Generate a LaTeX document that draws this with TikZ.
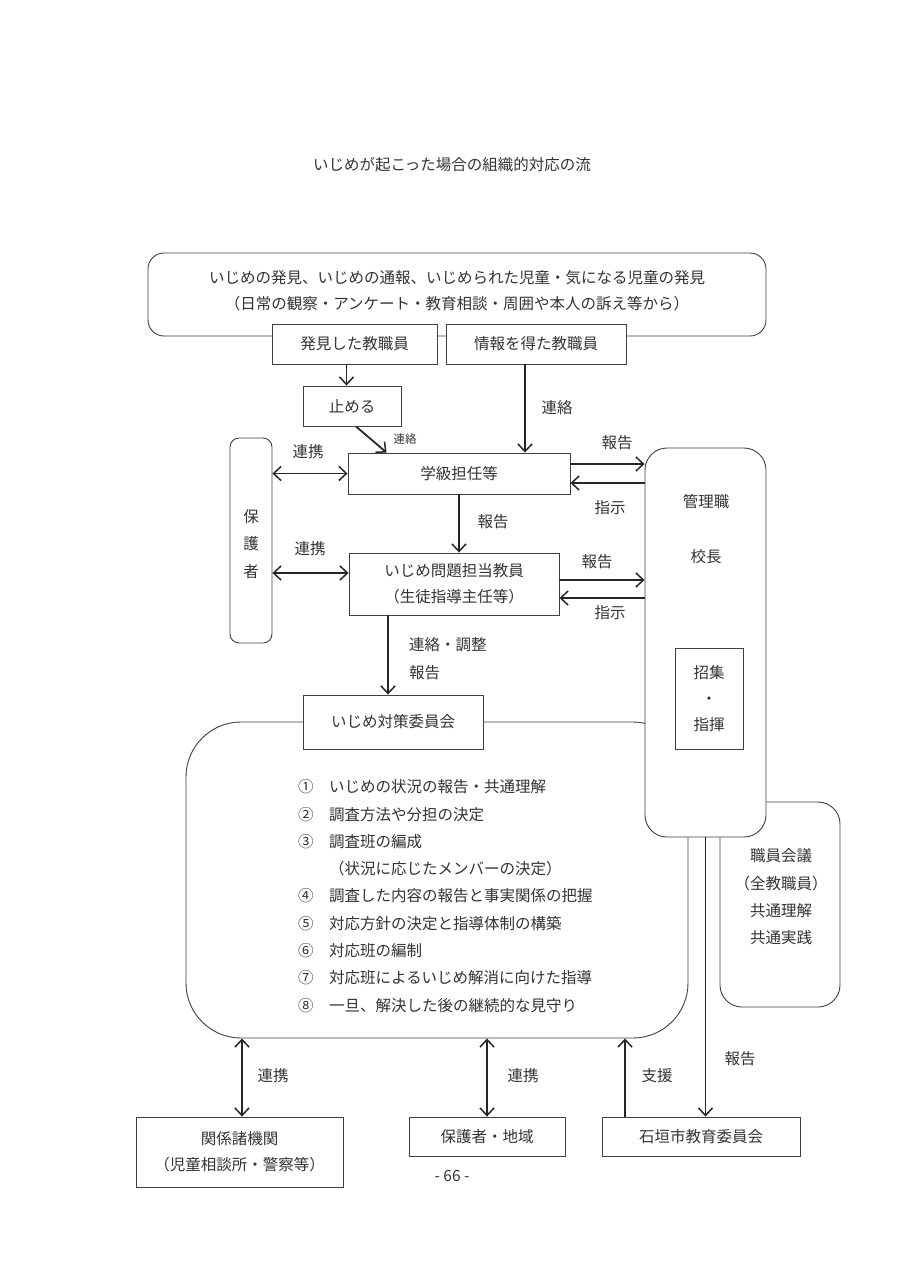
\documentclass[tikz,border=0pt]{standalone}
\usepackage{fontspec}
\setmainfont{Noto Sans CJK JP}
\usetikzlibrary{arrows.meta}

\tikzset{
  box/.style={draw=black!75, line width=0.9pt, fill=white, inner sep=0pt, align=center},
  rbox/.style={box, rounded corners=#1},
  rbox/.default=16pt,
  lbl/.style={inner sep=0pt, text=black!80},
  barb/.tip={Straight Barb[length=7.5pt,width=14pt,line width=1.5pt]},
  arr/.style={draw=black!85, line width=1.8pt, -barb},
  darr/.style={draw=black!85, line width=1.8pt, barb-barb},
}

\begin{document}
\begin{tikzpicture}[x=1pt, y=-1pt, font=\fontsize{15.5}{26}\selectfont, text=black!80]
  \useasboundingbox (0,0) rectangle (904,1280);

  % Draw the title
  \node[lbl] (title) at (452,165) {いじめが起こった場合の組織的対応の流};

  % Draw the discovery boxes
  \node[rbox, minimum width=618pt, minimum height=83pt] (top) at (457,294.5) {};
  \node[lbl, align=center] (toptext) at (457,291)
    {いじめの発見、いじめの通報、いじめられた児童・気になる児童の発見\\（日常の観察・アンケート・教育相談・周囲や本人の訴え等から）};
  \node[box, minimum width=165pt, minimum height=40pt] (hakken) at (354.5,344) {発見した教職員};
  \node[box, minimum width=180pt, minimum height=40pt] (joho) at (536,344) {情報を得た教職員};
  \node[box, minimum width=98pt, minimum height=40pt] (tomeru) at (352,406) {止める};

  % Draw the teachers
  \node[box, minimum width=222pt, minimum height=41pt] (gakkyu) at (459,473.5) {学級担任等};
  \node[box, minimum width=210pt, minimum height=62pt] (tanto) at (454,584)
    {いじめ問題担当教員\\（生徒指導主任等）};
  \node[rbox=9pt, minimum width=42pt, minimum height=205pt] (hogosha) at (251,540.5) {};
  \node[lbl, align=center, font=\fontsize{15.5}{27.5}\selectfont] (hogoshatext) at (251,544) {保\\護\\者};

  % Draw the committee
  \node[rbox=55pt, minimum width=502pt, minimum height=316pt] (area) at (437,880) {};
  \node[box, minimum width=180pt, minimum height=54pt] (iinkai) at (393,722) {いじめ対策委員会};
  \node[lbl, anchor=west, align=left, font=\fontsize{15.5}{27.3}\selectfont] (list) at (298,896)
    {①　いじめの状況の報告・共通理解\\
     ②　調査方法や分担の決定\\
     ③　調査班の編成\\
     　　（状況に応じたメンバーの決定）\\
     ④　調査した内容の報告と事実関係の把握\\
     ⑤　対応方針の決定と指導体制の構築\\
     ⑥　対応班の編制\\
     ⑦　対応班によるいじめ解消に向けた指導\\
     ⑧　一旦、解決した後の継続的な見守り};

  % Draw the staff meeting and the management
  \node[rbox=22pt, minimum width=120pt, minimum height=205pt] (shokuin) at (780,904.5) {};
  \node[lbl, align=center, font=\fontsize{15.5}{27.3}\selectfont] (shokuintext) at (781,897)
    {職員会議\\（全教職員）\\共通理解\\共通実践};
  \node[rbox=22pt, minimum width=121pt, minimum height=389pt] (kanri) at (705.5,642.5) {};
  \node[lbl] (kanrisyoku) at (706,502) {管理職};
  \node[lbl] (kocho) at (706,557) {校長};
  \node[box, minimum width=68pt, minimum height=101pt] (shoshu) at (709,698.5) {招集\\・\\指揮};

  % Draw the outside partners
  \node[box, minimum width=207pt, minimum height=70pt] (kankei) at (239.5,1152)
    {関係諸機関\\（児童相談所・警察等）};
  \node[box, minimum width=156pt, minimum height=39pt] (chiiki) at (487,1136.5) {保護者・地域};
  \node[box, minimum width=198pt, minimum height=39pt] (kyoiku) at (701,1136.5) {石垣市教育委員会};
  \node[lbl] (page) at (452,1176) {- 66 -};

  % Draw the edges
  \draw[arr] ([xshift=-8pt]hakken.south) -- ([xshift=-8pt]hakken.south |- tomeru.north);
  \draw[arr] ([xshift=4pt]tomeru.south) -- ([xshift=39pt]gakkyu.north west);
  \draw[arr] ([xshift=-11pt]joho.south) -- ([xshift=-11pt]joho.south |- gakkyu.north);
  \draw[arr] ([yshift=9.5pt]gakkyu.east) -- ([yshift=9.5pt]gakkyu.east -| kanri.west);
  \draw[arr] ([yshift=-9.5pt]gakkyu.east -| kanri.west) -- ([yshift=-9.5pt]gakkyu.east);
  \draw[darr] (hogosha.east |- gakkyu.west) -- (gakkyu.west);
  \draw[arr] (gakkyu.south) -- (gakkyu.south |- tanto.north);
  \draw[darr] ([yshift=11pt]tanto.west -| hogosha.east) -- ([yshift=11pt]tanto.west);
  \draw[arr] ([yshift=4pt]tanto.east) -- ([yshift=4pt]tanto.east -| kanri.west);
  \draw[arr] ([yshift=-14pt]tanto.east -| kanri.west) -- ([yshift=-14pt]tanto.east);
  \draw[arr] ([xshift=-5pt]iinkai.north |- tanto.south) -- ([xshift=-5pt]iinkai.north);
  \draw[darr] ([xshift=2.5pt]kankei.north) -- ([xshift=2.5pt]kankei.north |- area.south);
  \draw[darr] (chiiki.north) -- (chiiki.north |- area.south);
  \draw[arr] ([xshift=-76pt]kyoiku.north) -- ([xshift=-76pt]kyoiku.north |- area.south);
  \draw[arr] (kanri.south) -- (kanri.south |- kyoiku.north);

  % Draw the edge labels
  \node[lbl, font=\fontsize{11.5}{14}\selectfont] (renrakuA) at (405,439) {連絡};
  \node[lbl] (renrakuB) at (557,408) {連絡};
  \node[lbl] (hokokuA) at (617,443) {報告};
  \node[lbl] (shijiA) at (610,508) {指示};
  \node[lbl] (renkeiA) at (308,452) {連携};
  \node[lbl] (hokokuB) at (493,522) {報告};
  \node[lbl] (renkeiB) at (310,549) {連携};
  \node[lbl] (hokokuC) at (597,562) {報告};
  \node[lbl] (shijiB) at (610,613) {指示};
  \node[lbl, anchor=west, align=left, font=\fontsize{15.5}{28}\selectfont] (chosei) at (409,659)
    {連絡・調整\\報告};
  \node[lbl] (renkeiC) at (273,1076) {連携};
  \node[lbl] (renkeiD) at (523,1076) {連携};
  \node[lbl] (shien) at (657,1076) {支援};
  \node[lbl] (hokokuD) at (740,1059) {報告};
\end{tikzpicture}
\end{document}
